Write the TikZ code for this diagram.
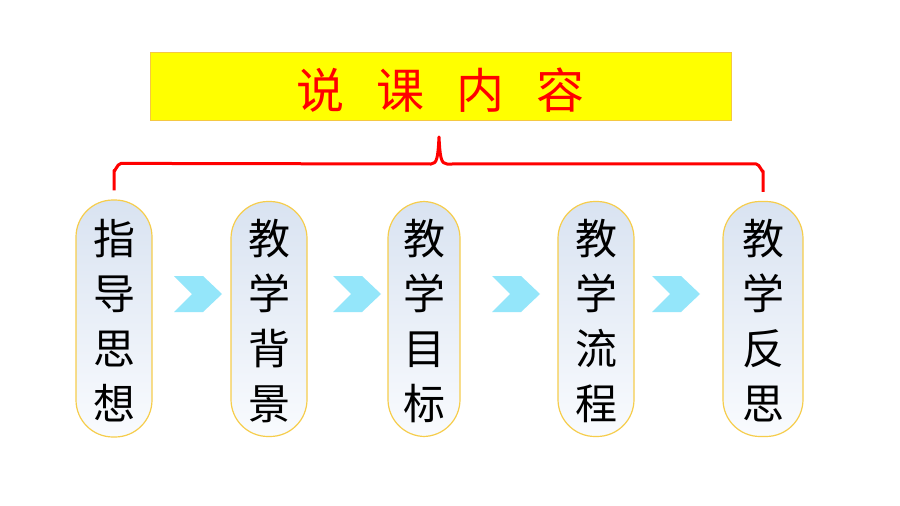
\documentclass[tikz,border=0pt]{standalone}
\usepackage{fontspec}
\newfontfamily\cjk{Noto Sans CJK SC}
\usetikzlibrary{calc}
\definecolor{bannerY}{HTML}{FFFF00}
\definecolor{bannerB}{HTML}{F5C842}
\definecolor{titleR}{HTML}{FF0000}
\definecolor{pillB}{HTML}{F6CD4C}
\definecolor{pillT}{HTML}{D9E3F1}
\definecolor{pillL}{HTML}{F9FBFE}
\definecolor{chevC}{HTML}{94E6FA}
\tikzset{
  banner/.style={draw=bannerB, line width=0.8pt, fill=bannerY, minimum width=581pt, minimum height=68pt, inner sep=0pt},
  pill/.style={draw=pillB, line width=1.2pt, top color=pillT, bottom color=pillL, rounded corners=37pt, minimum width=76pt, minimum height=235pt, inner sep=0pt},
  pilltext/.style={font=\cjk\fontsize{42}{55}\selectfont, align=center, text=black, inner sep=0pt},
  titletext/.style={font=\cjk\fontsize{48}{55}\selectfont, text=titleR, inner sep=0pt},
  bracket/.style={draw=titleR, line width=3pt, line join=round},
  chev/.pic={\fill[chevC] (-24,-18) -- (5,-18) -- (24,0) -- (5,18) -- (-24,18) -- (-6,0) -- cycle;}
}
\newcommand{\gapT}{\hspace{32pt}}
\begin{document}
\begin{tikzpicture}[x=1pt,y=-1pt]
\useasboundingbox[fill=white] (0,0) rectangle (900,506);
% banner
\node[banner] (ban) at (440.5,86) {};
\node[titletext] (title) at (440.5,90) {说\gapT 课\gapT 内\gapT 容};
% pills
\node[pill, minimum height=237pt] (p1) at (114,318.5) {};
\node[pill] (p2) at (269,319) {};
\node[pill, minimum width=72pt] (p3) at (424,319) {};
\node[pill] (p4) at (596,319) {};
\node[pill, minimum width=80pt] (p5) at (763,319) {};
\foreach \n/\t in {p1/{指\\导\\思\\想}, p2/{教\\学\\背\\景}, p3/{教\\学\\目\\标}, p4/{教\\学\\流\\程}, p5/{教\\学\\反\\思}}{
  \node[pilltext] at ($(\n.center)+(0,2)$) {\t};
}
% chevrons
\foreach \x in {198,357,516,676}{
  \pic at (\x,294) {chev};
}
% bracket
\coordinate (peak) at (439,137);
\draw[bracket] ($(p1.north)+(0,-9)$) -- ++(0,-20) to[out=-90,in=180] ++(7,-7) -- ($(peak)+(-8,27)$)
  .. controls ($(peak)+(-2,27)$) and ($(peak)+(-1,20)$) .. (peak)
  .. controls ($(peak)+(1,20)$) and ($(peak)+(2,27)$) .. ($(peak)+(8,27)$)
  -- ($(p5.north)+(-7,-37)$) to[out=0,in=-90] ++(7,7) -- ($(p5.north)+(0,-9)$);
\end{tikzpicture}
\end{document}
